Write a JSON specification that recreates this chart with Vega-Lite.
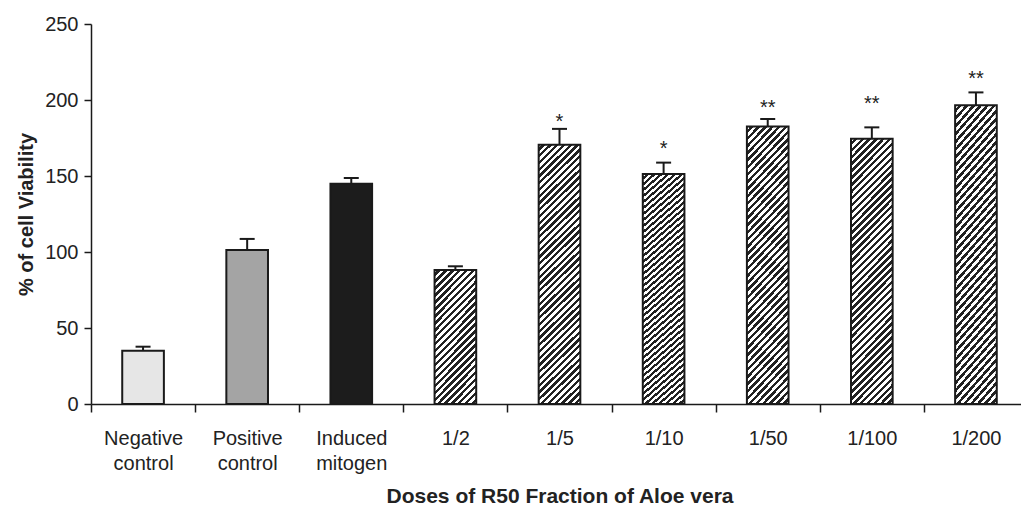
{
  "$schema": "https://vega.github.io/schema/vega-lite/v6.json",
  "width": 930,
  "height": 380,
  "autosize": {"type": "none"},
  "padding": {"left": 91, "top": 24, "right": 0, "bottom": 102},
  "background": "white",
  "config": {"view": {"stroke": null}, "font": "Liberation Sans"},
  "data": {
    "values": [
      {"Dose": "Negative control", "Viability": 35.1, "Upper": 37.7, "Sig": "", "StarPos": null},
      {"Dose": "Positive control", "Viability": 101.3, "Upper": 108.6, "Sig": "", "StarPos": null},
      {"Dose": "Induced mitogen", "Viability": 144.9, "Upper": 148.7, "Sig": "", "StarPos": null},
      {"Dose": "1/2", "Viability": 88.2, "Upper": 90.6, "Sig": "", "StarPos": null},
      {"Dose": "1/5", "Viability": 170.6, "Upper": 181.0, "Sig": "*", "StarPos": 189.5},
      {"Dose": "1/10", "Viability": 151.3, "Upper": 158.8, "Sig": "*", "StarPos": 171.7},
      {"Dose": "1/50", "Viability": 182.5, "Upper": 187.5, "Sig": "**", "StarPos": 198.7},
      {"Dose": "1/100", "Viability": 174.5, "Upper": 182.0, "Sig": "**", "StarPos": 201.5},
      {"Dose": "1/200", "Viability": 196.5, "Upper": 205.0, "Sig": "**", "StarPos": 217.8}
    ]
  },
  "encoding": {
    "x": {
      "field": "Dose",
      "type": "nominal",
      "sort": null,
      "scale": {"range": [0, 937], "paddingInner": 0, "paddingOuter": 0},
      "axis": {
        "title": "Doses of R50 Fraction of Aloe vera",
        "labelAngle": 0,
        "labelExpr": "split(datum.label, ' ')",
        "labelFont": "Liberation Sans",
        "labelFontSize": 20,
        "labelLineHeight": 25,
        "labelPadding": 16,
        "labelColor": "#222",
        "labelOverlap": false,
        "labelLimit": 0,
        "tickSize": 8,
        "tickBand": "extent",
        "tickColor": "#1a1a1a",
        "tickWidth": 1.5,
        "domainColor": "#1a1a1a",
        "domainWidth": 1.5,
        "titleFont": "Liberation Sans",
        "titleFontSize": 21,
        "titleFontWeight": "bold",
        "titleColor": "#222",
        "titlePadding": 12,
        "grid": false
      }
    }
  },
  "layer": [
    {
      "mark": {"type": "bar", "stroke": "#1a1a1a", "strokeWidth": 2, "width": {"band": 0.4}},
      "encoding": {
        "y": {
          "field": "Viability",
          "type": "quantitative",
          "title": "% of cell Viability",
          "scale": {"domain": [0, 250], "nice": false},
          "axis": {
            "values": [0, 50, 100, 150, 200, 250],
            "tickSize": 7,
            "labelPadding": 6,
            "labelFont": "Liberation Sans",
            "labelFontSize": 20,
            "labelColor": "#222",
            "titleFont": "Liberation Sans",
            "titleFontSize": 20,
            "titleFontWeight": "bold",
            "titleColor": "#222",
            "titlePadding": 8,
            "grid": false,
            "domainColor": "#1a1a1a",
            "domainWidth": 1.5,
            "tickColor": "#1a1a1a",
            "tickWidth": 1.5
          }
        },
        "fill": {
          "condition": [
            {"test": "datum.Dose === 'Negative control'", "value": "#e6e6e6"},
            {"test": "datum.Dose === 'Positive control'", "value": "#a4a4a4"},
            {"test": "datum.Dose === 'Induced mitogen'", "value": "#1c1c1c"},
            {"test": "datum.Dose === '1/2'", "value": {
              "gradient": "linear", "x1": 0, "y1": 0, "x2": 0.7447, "y2": 2.358,
              "stops": [
                {"offset":0,"color":"#fff"},
                {"offset":0.01,"color":"#fff"},{"offset":0.01,"color":"#222"},
                {"offset":0.02,"color":"#222"},{"offset":0.02,"color":"#fff"},
                {"offset":0.03,"color":"#fff"},{"offset":0.03,"color":"#222"},
                {"offset":0.04,"color":"#222"},{"offset":0.04,"color":"#fff"},
                {"offset":0.05,"color":"#fff"},{"offset":0.05,"color":"#222"},
                {"offset":0.06,"color":"#222"},{"offset":0.06,"color":"#fff"},
                {"offset":0.07,"color":"#fff"},{"offset":0.07,"color":"#222"},
                {"offset":0.08,"color":"#222"},{"offset":0.08,"color":"#fff"},
                {"offset":0.09,"color":"#fff"},{"offset":0.09,"color":"#222"},
                {"offset":0.10,"color":"#222"},{"offset":0.10,"color":"#fff"},
                {"offset":0.11,"color":"#fff"},{"offset":0.11,"color":"#222"},
                {"offset":0.12,"color":"#222"},{"offset":0.12,"color":"#fff"},
                {"offset":0.13,"color":"#fff"},{"offset":0.13,"color":"#222"},
                {"offset":0.14,"color":"#222"},{"offset":0.14,"color":"#fff"},
                {"offset":0.15,"color":"#fff"},{"offset":0.15,"color":"#222"},
                {"offset":0.16,"color":"#222"},{"offset":0.16,"color":"#fff"},
                {"offset":0.17,"color":"#fff"},{"offset":0.17,"color":"#222"},
                {"offset":0.18,"color":"#222"},{"offset":0.18,"color":"#fff"},
                {"offset":0.19,"color":"#fff"},{"offset":0.19,"color":"#222"},
                {"offset":0.20,"color":"#222"},{"offset":0.20,"color":"#fff"},
                {"offset":0.21,"color":"#fff"},{"offset":0.21,"color":"#222"},
                {"offset":0.22,"color":"#222"},{"offset":0.22,"color":"#fff"},
                {"offset":0.23,"color":"#fff"},{"offset":0.23,"color":"#222"},
                {"offset":0.24,"color":"#222"},{"offset":0.24,"color":"#fff"},
                {"offset":0.25,"color":"#fff"},{"offset":0.25,"color":"#222"},
                {"offset":0.26,"color":"#222"},{"offset":0.26,"color":"#fff"},
                {"offset":0.27,"color":"#fff"},{"offset":0.27,"color":"#222"},
                {"offset":0.28,"color":"#222"},{"offset":0.28,"color":"#fff"},
                {"offset":0.29,"color":"#fff"},{"offset":0.29,"color":"#222"},
                {"offset":0.30,"color":"#222"},{"offset":0.30,"color":"#fff"},
                {"offset":0.31,"color":"#fff"},{"offset":0.31,"color":"#222"},
                {"offset":0.32,"color":"#222"},{"offset":0.32,"color":"#fff"},
                {"offset":0.33,"color":"#fff"},{"offset":0.33,"color":"#222"},
                {"offset":0.34,"color":"#222"},{"offset":0.34,"color":"#fff"},
                {"offset":0.35,"color":"#fff"},{"offset":0.35,"color":"#222"},
                {"offset":0.36,"color":"#222"},{"offset":0.36,"color":"#fff"},
                {"offset":0.37,"color":"#fff"},{"offset":0.37,"color":"#222"},
                {"offset":0.38,"color":"#222"},{"offset":0.38,"color":"#fff"},
                {"offset":0.39,"color":"#fff"},{"offset":0.39,"color":"#222"},
                {"offset":0.40,"color":"#222"},{"offset":0.40,"color":"#fff"},
                {"offset":0.41,"color":"#fff"},{"offset":0.41,"color":"#222"},
                {"offset":0.42,"color":"#222"},{"offset":0.42,"color":"#fff"},
                {"offset":0.43,"color":"#fff"},{"offset":0.43,"color":"#222"},
                {"offset":0.44,"color":"#222"},{"offset":0.44,"color":"#fff"},
                {"offset":0.45,"color":"#fff"},{"offset":0.45,"color":"#222"},
                {"offset":0.46,"color":"#222"},{"offset":0.46,"color":"#fff"},
                {"offset":0.47,"color":"#fff"},{"offset":0.47,"color":"#222"},
                {"offset":0.48,"color":"#222"},{"offset":0.48,"color":"#fff"},
                {"offset":0.49,"color":"#fff"},{"offset":0.49,"color":"#222"},
                {"offset":0.50,"color":"#222"},{"offset":0.50,"color":"#fff"},
                {"offset":0.51,"color":"#fff"},{"offset":0.51,"color":"#222"},
                {"offset":0.52,"color":"#222"}
              ]
            }}
          ],
          "value": {
            "gradient": "linear", "x1": 0, "y1": 0, "x2": 0.2013, "y2": 1.27,
            "stops": [
              {"offset":0,"color":"#fff"},
              {"offset":0.01,"color":"#fff"},{"offset":0.01,"color":"#222"},
              {"offset":0.02,"color":"#222"},{"offset":0.02,"color":"#fff"},
              {"offset":0.03,"color":"#fff"},{"offset":0.03,"color":"#222"},
              {"offset":0.04,"color":"#222"},{"offset":0.04,"color":"#fff"},
              {"offset":0.05,"color":"#fff"},{"offset":0.05,"color":"#222"},
              {"offset":0.06,"color":"#222"},{"offset":0.06,"color":"#fff"},
              {"offset":0.07,"color":"#fff"},{"offset":0.07,"color":"#222"},
              {"offset":0.08,"color":"#222"},{"offset":0.08,"color":"#fff"},
              {"offset":0.09,"color":"#fff"},{"offset":0.09,"color":"#222"},
              {"offset":0.10,"color":"#222"},{"offset":0.10,"color":"#fff"},
              {"offset":0.11,"color":"#fff"},{"offset":0.11,"color":"#222"},
              {"offset":0.12,"color":"#222"},{"offset":0.12,"color":"#fff"},
              {"offset":0.13,"color":"#fff"},{"offset":0.13,"color":"#222"},
              {"offset":0.14,"color":"#222"},{"offset":0.14,"color":"#fff"},
              {"offset":0.15,"color":"#fff"},{"offset":0.15,"color":"#222"},
              {"offset":0.16,"color":"#222"},{"offset":0.16,"color":"#fff"},
              {"offset":0.17,"color":"#fff"},{"offset":0.17,"color":"#222"},
              {"offset":0.18,"color":"#222"},{"offset":0.18,"color":"#fff"},
              {"offset":0.19,"color":"#fff"},{"offset":0.19,"color":"#222"},
              {"offset":0.20,"color":"#222"},{"offset":0.20,"color":"#fff"},
              {"offset":0.21,"color":"#fff"},{"offset":0.21,"color":"#222"},
              {"offset":0.22,"color":"#222"},{"offset":0.22,"color":"#fff"},
              {"offset":0.23,"color":"#fff"},{"offset":0.23,"color":"#222"},
              {"offset":0.24,"color":"#222"},{"offset":0.24,"color":"#fff"},
              {"offset":0.25,"color":"#fff"},{"offset":0.25,"color":"#222"},
              {"offset":0.26,"color":"#222"},{"offset":0.26,"color":"#fff"},
              {"offset":0.27,"color":"#fff"},{"offset":0.27,"color":"#222"},
              {"offset":0.28,"color":"#222"},{"offset":0.28,"color":"#fff"},
              {"offset":0.29,"color":"#fff"},{"offset":0.29,"color":"#222"},
              {"offset":0.30,"color":"#222"},{"offset":0.30,"color":"#fff"},
              {"offset":0.31,"color":"#fff"},{"offset":0.31,"color":"#222"},
              {"offset":0.32,"color":"#222"},{"offset":0.32,"color":"#fff"},
              {"offset":0.33,"color":"#fff"},{"offset":0.33,"color":"#222"},
              {"offset":0.34,"color":"#222"},{"offset":0.34,"color":"#fff"},
              {"offset":0.35,"color":"#fff"},{"offset":0.35,"color":"#222"},
              {"offset":0.36,"color":"#222"},{"offset":0.36,"color":"#fff"},
              {"offset":0.37,"color":"#fff"},{"offset":0.37,"color":"#222"},
              {"offset":0.38,"color":"#222"},{"offset":0.38,"color":"#fff"},
              {"offset":0.39,"color":"#fff"},{"offset":0.39,"color":"#222"},
              {"offset":0.40,"color":"#222"},{"offset":0.40,"color":"#fff"},
              {"offset":0.41,"color":"#fff"},{"offset":0.41,"color":"#222"},
              {"offset":0.42,"color":"#222"},{"offset":0.42,"color":"#fff"},
              {"offset":0.43,"color":"#fff"},{"offset":0.43,"color":"#222"},
              {"offset":0.44,"color":"#222"},{"offset":0.44,"color":"#fff"},
              {"offset":0.45,"color":"#fff"},{"offset":0.45,"color":"#222"},
              {"offset":0.46,"color":"#222"},{"offset":0.46,"color":"#fff"},
              {"offset":0.47,"color":"#fff"},{"offset":0.47,"color":"#222"},
              {"offset":0.48,"color":"#222"},{"offset":0.48,"color":"#fff"},
              {"offset":0.49,"color":"#fff"},{"offset":0.49,"color":"#222"},
              {"offset":0.50,"color":"#222"},{"offset":0.50,"color":"#fff"},
              {"offset":0.51,"color":"#fff"},{"offset":0.51,"color":"#222"},
              {"offset":0.52,"color":"#222"},{"offset":0.52,"color":"#fff"},
              {"offset":0.53,"color":"#fff"},{"offset":0.53,"color":"#222"},
              {"offset":0.54,"color":"#222"},{"offset":0.54,"color":"#fff"},
              {"offset":0.55,"color":"#fff"},{"offset":0.55,"color":"#222"},
              {"offset":0.56,"color":"#222"},{"offset":0.56,"color":"#fff"},
              {"offset":0.57,"color":"#fff"},{"offset":0.57,"color":"#222"},
              {"offset":0.58,"color":"#222"},{"offset":0.58,"color":"#fff"},
              {"offset":0.59,"color":"#fff"},{"offset":0.59,"color":"#222"},
              {"offset":0.60,"color":"#222"},{"offset":0.60,"color":"#fff"},
              {"offset":0.61,"color":"#fff"},{"offset":0.61,"color":"#222"},
              {"offset":0.62,"color":"#222"},{"offset":0.62,"color":"#fff"},
              {"offset":0.63,"color":"#fff"},{"offset":0.63,"color":"#222"},
              {"offset":0.64,"color":"#222"},{"offset":0.64,"color":"#fff"},
              {"offset":0.65,"color":"#fff"},{"offset":0.65,"color":"#222"},
              {"offset":0.66,"color":"#222"},{"offset":0.66,"color":"#fff"},
              {"offset":0.67,"color":"#fff"},{"offset":0.67,"color":"#222"},
              {"offset":0.68,"color":"#222"},{"offset":0.68,"color":"#fff"},
              {"offset":0.69,"color":"#fff"},{"offset":0.69,"color":"#222"},
              {"offset":0.70,"color":"#222"},{"offset":0.70,"color":"#fff"},
              {"offset":0.71,"color":"#fff"},{"offset":0.71,"color":"#222"},
              {"offset":0.72,"color":"#222"},{"offset":0.72,"color":"#fff"},
              {"offset":0.73,"color":"#fff"},{"offset":0.73,"color":"#222"},
              {"offset":0.74,"color":"#222"},{"offset":0.74,"color":"#fff"},
              {"offset":0.75,"color":"#fff"},{"offset":0.75,"color":"#222"},
              {"offset":0.76,"color":"#222"},{"offset":0.76,"color":"#fff"},
              {"offset":0.77,"color":"#fff"},{"offset":0.77,"color":"#222"},
              {"offset":0.78,"color":"#222"},{"offset":0.78,"color":"#fff"},
              {"offset":0.79,"color":"#fff"},{"offset":0.79,"color":"#222"},
              {"offset":0.80,"color":"#222"},{"offset":0.80,"color":"#fff"},
              {"offset":0.81,"color":"#fff"},{"offset":0.81,"color":"#222"},
              {"offset":0.82,"color":"#222"},{"offset":0.82,"color":"#fff"},
              {"offset":0.83,"color":"#fff"},{"offset":0.83,"color":"#222"},
              {"offset":0.84,"color":"#222"},{"offset":0.84,"color":"#fff"},
              {"offset":0.85,"color":"#fff"},{"offset":0.85,"color":"#222"},
              {"offset":0.86,"color":"#222"},{"offset":0.86,"color":"#fff"},
              {"offset":0.87,"color":"#fff"},{"offset":0.87,"color":"#222"},
              {"offset":0.88,"color":"#222"},{"offset":0.88,"color":"#fff"},
              {"offset":0.89,"color":"#fff"},{"offset":0.89,"color":"#222"},
              {"offset":0.90,"color":"#222"},{"offset":0.90,"color":"#fff"},
              {"offset":0.91,"color":"#fff"},{"offset":0.91,"color":"#222"},
              {"offset":0.92,"color":"#222"},{"offset":0.92,"color":"#fff"},
              {"offset":0.93,"color":"#fff"},{"offset":0.93,"color":"#222"},
              {"offset":0.94,"color":"#222"},{"offset":0.94,"color":"#fff"},
              {"offset":0.95,"color":"#fff"},{"offset":0.95,"color":"#222"},
              {"offset":0.96,"color":"#222"},{"offset":0.96,"color":"#fff"},
              {"offset":0.97,"color":"#fff"},{"offset":0.97,"color":"#222"},
              {"offset":0.98,"color":"#222"},{"offset":0.98,"color":"#fff"},
              {"offset":0.99,"color":"#fff"},{"offset":0.99,"color":"#222"},
              {"offset":1,"color":"#222"}
            ]
          }
        }
      }
    },
    {
      "mark": {"type": "rule", "stroke": "#1a1a1a", "strokeWidth": 2},
      "encoding": {
        "y": {"field": "Viability", "type": "quantitative", "title": "% of cell Viability"},
        "y2": {"field": "Upper"}
      }
    },
    {
      "mark": {"type": "tick", "color": "#1a1a1a", "size": 15, "thickness": 2, "opacity": 1},
      "encoding": {
        "y": {"field": "Upper", "type": "quantitative", "title": "% of cell Viability"}
      }
    },
    {
      "transform": [{"filter": "datum.Sig != ''"}],
      "mark": {"type": "text", "font": "Liberation Sans", "fontSize": 20, "baseline": "middle", "dy": 6, "color": "#222"},
      "encoding": {
        "y": {"field": "StarPos", "type": "quantitative", "title": "% of cell Viability"},
        "text": {"field": "Sig"}
      }
    }
  ]
}
